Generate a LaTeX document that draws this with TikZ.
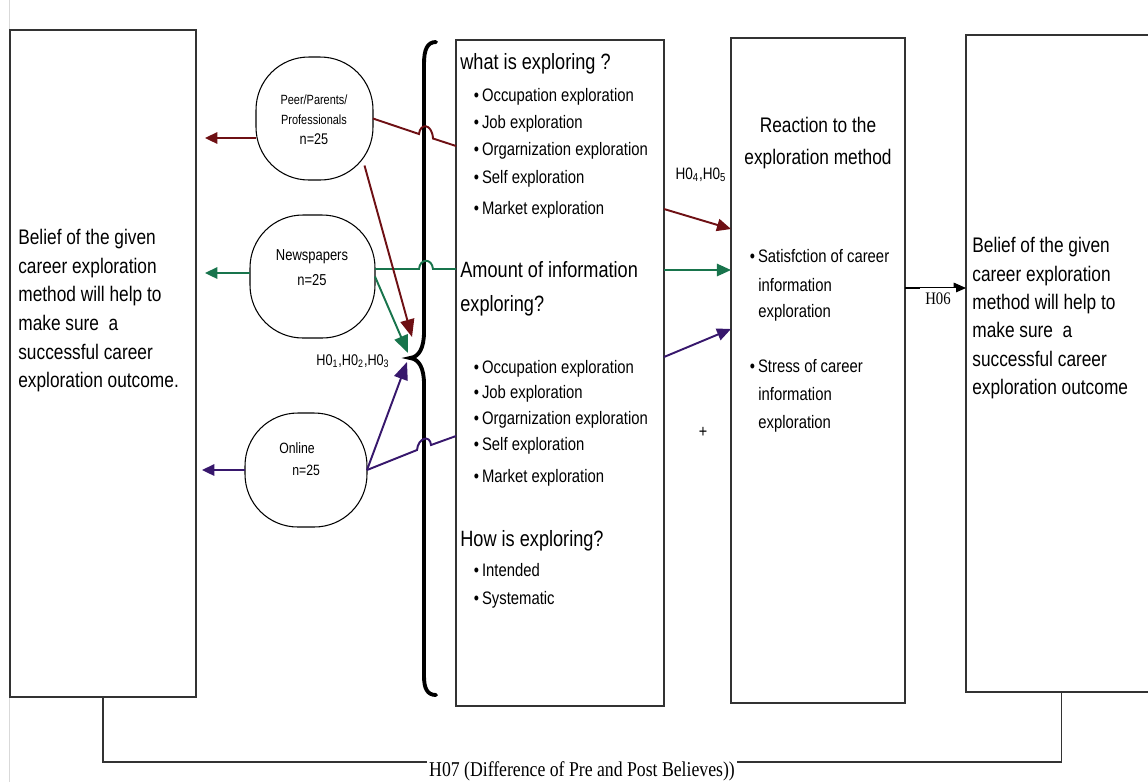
\documentclass[tikz,border=0pt]{standalone}
\usepackage{fontspec}
\setmainfont{Liberation Sans}[FakeStretch=0.82]
\newfontfamily\serifnarrow{Liberation Serif}[FakeStretch=0.84]
\usetikzlibrary{arrows.meta,calc}

\definecolor{pathred}{HTML}{6E1014}
\definecolor{pathgreen}{HTML}{18744C}
\definecolor{pathpurple}{HTML}{37176C}

\tikzset{
  box/.style={draw=black!80, line width=.7pt, fill=white, inner sep=0pt, outer sep=0pt},
  oval/.style={draw=black, line width=.6pt, rounded corners=30pt, inner sep=0pt, outer sep=0pt},
  bigtxt/.style={anchor=mid west, inner sep=0pt, font=\fontsize{12}{14}\selectfont},
  headtxt/.style={anchor=mid west, inner sep=0pt, font=\fontsize{12.6}{15}\selectfont},
  itemtxt/.style={anchor=mid west, inner sep=0pt, font=\fontsize{10.3}{12}\selectfont},
  ovaltxt/.style={align=center, inner sep=0pt},
  hyptxt/.style={inner sep=0pt, font=\fontsize{8.8}{10}\selectfont},
  link/.style={line width=1.1pt},
  tipped/.style={link, -{Triangle[length=8pt,width=7pt]}},
  bigtip/.style={link, -{Triangle[length=10pt,width=8pt]}},
  backtip/.style={link, -{Triangle[length=7pt,width=6.5pt]}}
}

\begin{document}
\begin{tikzpicture}[x=0.02cm,y=-0.02cm]
  \useasboundingbox (0,0) rectangle (1148,782);
  \draw[black!15, line width=.4pt] (9,0) -- (9,782);

  % --- the four columns -----------------------------------------------------
  \node[box, minimum width=3.72cm, minimum height=13.34cm] (left)  at (103,363.5) {};
  \node[box, minimum width=4.16cm, minimum height=13.32cm] (mid)   at (560,373)   {};
  \node[box, minimum width=3.48cm, minimum height=13.3cm]  (reac)  at (818,370.5) {};
  \node[box, minimum width=3.82cm, minimum height=13.14cm] (right) at (1061.5,363.5) {};

  % belief before and after
  \foreach \t [count=\i from 0] in {Belief of the given, career exploration,
      method will help to, make sure\ \ a, successful career, exploration outcome.}
    \node[bigtxt] (pre\i) at (18,240+28.6*\i) {\t};
  \foreach \t [count=\i from 0] in {Belief of the given, career exploration,
      method will help to, make sure\ \ a, successful career, exploration outcome}
    \node[bigtxt] (post\i) at (972,248+28.4*\i) {\t};

  % --- sources --------------------------------------------------------------
  \node[oval, minimum width=2.34cm, minimum height=2.46cm] (peer)   at (314.5,118.5) {};
  \node[oval, minimum width=2.5cm,  minimum height=2.46cm] (news)   at (312.5,276.5) {};
  \node[oval, minimum width=2.44cm, minimum height=2.28cm] (online) at (306,470)     {};
  \node[ovaltxt, font=\fontsize{7.6}{11.4}\selectfont] (peertxt) at (314,120)
    {Peer/Parents/\\Professionals\\{\fontsize{8.8}{11}\selectfont n=25}};
  \node[ovaltxt, font=\fontsize{9}{14}\selectfont] (newstxt) at (312,267.5) {Newspapers\\n=25};
  \node[ovaltxt, align=left, anchor=west, font=\fontsize{8.5}{12.5}\selectfont] (onlinetxt)
    at (279,459) {Online\\\hspace*{7.4pt}n=25};

  % --- what / how much / how ------------------------------------------------
  \node[headtxt] (what) at (460,65) {what is exploring ?};
  \foreach \t/\yy [count=\i] in {Occupation exploration/97, Job exploration/124,
      Orgarnization exploration/151, Self exploration/179, Market exploration/210}
    \node[itemtxt] (what\i) at (473.5,\yy) {\textbullet\,\t};
  \node[headtxt] (amount) at (460,273) {Amount of information};
  \node[headtxt] (amount0) at (460,307) {exploring?};
  \foreach \t/\yy [count=\i] in {Occupation exploration/369, Job exploration/394,
      Orgarnization exploration/420, Self exploration/446, Market exploration/478}
    \node[itemtxt] (amount\i) at (473.5,\yy) {\textbullet\,\t};
  \node[headtxt] (how) at (460,542) {How is exploring?};
  \node[itemtxt] (how1) at (473.5,572) {\textbullet\,Intended};
  \node[itemtxt] (how2) at (473.5,600) {\textbullet\,Systematic};

  % --- reaction -------------------------------------------------------------
  \node[bigtxt, anchor=mid] (reac1) at (818,128) {Reaction to the};
  \node[bigtxt, anchor=mid] (reac2) at (818,160) {exploration method};
  \node[itemtxt] (sat1) at (749.5,258) {\textbullet\,Satisfction of career};
  \node[itemtxt] (sat2) at (758,287) {information};
  \node[itemtxt] (sat3) at (758,313) {exploration};
  \node[itemtxt] (str1) at (749.5,368) {\textbullet\,Stress of career};
  \node[itemtxt] (str2) at (758,396) {information};
  \node[itemtxt] (str3) at (758,424) {exploration};

  % --- brace ----------------------------------------------------------------
  \coordinate (brtip) at (410,358);
  \draw[line width=2.2pt, line cap=round]
    (436,42) .. controls (427,42) and (424,50) .. (424,64) -- (424,332)
    .. controls (424,348) and (419,357) .. (brtip)
    .. controls (419,359) and (424,368) .. (424,384) -- (424,676)
    .. controls (424,688) and (427,695) .. (436,695);

  % --- connectors -----------------------------------------------------------
  \draw[link, pathred] (peer.east) -- (419,134)
    .. controls (420,123) and (432,123) .. (433,138.5) -- (mid.west |- 0,146);
  \draw[link, pathgreen] (news.east |- 0,269) -- (419,269)
    .. controls (420,258) and (432,258) .. (433,269) -- (mid.west |- 0,269);
  \draw[link, pathpurple] (online.east) -- (417,450)
    .. controls (418,438) and (430,434) .. (431,445) -- (mid.west |- 0,436);

  \draw[tipped, pathred]    (mid.east |- 0,209) -- (reac.west |- 0,229);
  \draw[tipped, pathgreen]  (mid.east |- 0,270) -- (reac.west |- 0,270);
  \draw[tipped, pathpurple] (mid.east |- 0,357) -- (reac.west |- 0,329);

  \draw[bigtip, pathred]    ($(peer.center)+(50,47)$) -- ($(brtip)+(2,-21)$);
  \draw[bigtip, pathgreen]  (news.east) -- ($(brtip)+(-2,-5)$);
  \draw[bigtip, pathpurple] (online.east) -- ($(brtip)+(-3,4)$);

  \draw[backtip, pathred]    (peer.west |- 0,138) -- ++(-51,0);
  \draw[backtip, pathgreen]  (news.west |- 0,273) -- ++(-45,0);
  \draw[backtip, pathpurple] (online.west) -- ++(-43,0);

  \node[hyptxt] (h123) at (353,361)
    {H0\textsubscript{1},H0\textsubscript{2},H0\textsubscript{3}};
  \node[hyptxt, font=\fontsize{9.4}{11}\selectfont] (h45) at (701,175)
    {H0\textsubscript{4},H0\textsubscript{5}};
  \node[inner sep=0pt, font=\fontsize{10}{12}\selectfont] (plus) at (703,432) {+};

  \draw[-{Triangle[length=7pt,width=6pt]}, line width=.7pt]
    (reac.east |- 0,288) -- (right.west |- 0,288);
  \node[fill=white, inner sep=3pt, font=\serifnarrow\fontsize{10}{12}\selectfont] (h06)
    at (938,299) {H06};

  \draw[draw=black!80, line width=.7pt] (left.south) -- ++(0,65) -| (right.south);
  \node[fill=white, inner sep=1pt, font=\serifnarrow\fontsize{12}{14}\selectfont] (h07)
    at (582,771) {H07 (Difference of Pre and Post Believes))};
\end{tikzpicture}
\end{document}
